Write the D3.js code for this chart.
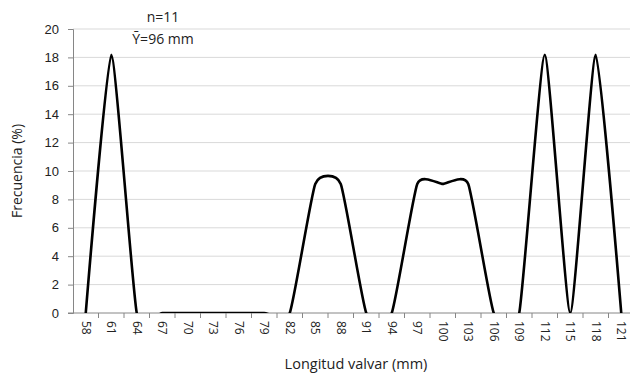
<!DOCTYPE html>
<html>
<head>
<meta charset="utf-8">
<script src="https://cdn.jsdelivr.net/npm/d3@7"></script>
<style>
  body { margin: 0; background: #fff; }
  svg { font-family: "Open Sans", Lato, sans-serif; }
  .tick text { fill: #222; }
</style>
</head>
<body>
<div id="chart"></div>
<script>
// Longitud valvar - frecuencia (%)
const lengths = ["58","61","64","67","70","73","76","79","82","85","88","91","94","97","100","103","106","109","112","115","118","121"];
const freq = [0, 18.18, 0, 0, 0, 0, 0, 0, 0, 9.09, 9.09, 0, 0, 9.09, 9.09, 9.09, 0, 0, 18.18, 0, 18.18, 0];
const yTicks = [0, 2, 4, 6, 8, 10, 12, 14, 16, 18, 20];

const W = 630, H = 374;
const plot = { left: 73, right: 634, top: 29, bottom: 313 };

const svg = d3.select("#chart").append("svg")
    .attr("width", W)
    .attr("height", H);

const x = d3.scaleBand()
    .domain(lengths)
    .range([plot.left, plot.right]);

const y = d3.scaleLinear()
    .domain([0, 20])
    .range([plot.bottom, plot.top]);

// gridlines
svg.append("g")
    .selectAll("line")
    .data(yTicks.filter(t => t > 0))
    .enter()
    .append("line")
    .attr("x1", plot.left)
    .attr("x2", plot.right)
    .attr("y1", d => y(d))
    .attr("y2", d => y(d))
    .attr("stroke", "#d9d9d9")
    .attr("stroke-width", 1);

// y axis
const yAxis = svg.append("g")
    .attr("transform", `translate(${plot.left},0)`)
    .call(d3.axisLeft(y).tickValues(yTicks).tickSize(5).tickPadding(9));
yAxis.select(".domain").attr("stroke", "#868686");
yAxis.selectAll(".tick line").attr("stroke", "#868686");
yAxis.selectAll(".tick text").attr("font-size", 13);

// x axis: ticks sit on the category boundaries
const xAxis = svg.append("g")
    .attr("transform", `translate(0,${plot.bottom})`);
xAxis.append("line")
    .attr("x1", plot.left - 5)
    .attr("x2", plot.right)
    .attr("stroke", "#868686");
xAxis.selectAll(".xt")
    .data(lengths)
    .enter()
    .append("line")
    .attr("x1", d => x(d) + x.bandwidth())
    .attr("x2", d => x(d) + x.bandwidth())
    .attr("y1", 0)
    .attr("y2", 5)
    .attr("stroke", "#868686");
xAxis.selectAll(".xl")
    .data(lengths)
    .enter()
    .append("text")
    .attr("transform", d => `translate(${x(d) + x.bandwidth() / 2 - 1},8) rotate(90)`)
    .attr("dominant-baseline", "middle")
    .attr("text-anchor", "start")
    .attr("font-size", 12)
    .attr("fill", "#222")
    .text(d => d);

// smoothed line, clipped to the plot area
svg.append("clipPath")
    .attr("id", "clip")
    .append("rect")
    .attr("x", plot.left)
    .attr("y", plot.top - 10)
    .attr("width", plot.right - plot.left)
    .attr("height", plot.bottom - plot.top + 10);

const line = d3.line()
    .x((d, i) => x(lengths[i]) + x.bandwidth() / 2)
    .y(d => y(d))
    .curve(d3.curveCardinal.tension(0.5));

svg.append("path")
    .datum(freq)
    .attr("clip-path", "url(#clip)")
    .attr("d", line)
    .attr("fill", "none")
    .attr("stroke", "#000")
    .attr("stroke-width", 2.6);

// annotations
svg.append("text")
    .attr("x", 163).attr("y", 18)
    .attr("text-anchor", "middle")
    .attr("dominant-baseline", "middle")
    .attr("font-size", 14)
    .attr("fill", "#222")
    .text("n=11");
svg.append("text")
    .attr("x", 163).attr("y", 40)
    .attr("text-anchor", "middle")
    .attr("dominant-baseline", "middle")
    .attr("font-size", 14)
    .attr("fill", "#222")
    .text("Ȳ=96 mm");

// axis titles
svg.append("text")
    .attr("transform", `translate(18,171) rotate(-90)`)
    .attr("text-anchor", "middle")
    .attr("dominant-baseline", "middle")
    .attr("font-size", 14)
    .attr("fill", "#222")
    .text("Frecuencia (%)");
svg.append("text")
    .attr("x", 356).attr("y", 365)
    .attr("text-anchor", "middle")
    .attr("dominant-baseline", "middle")
    .attr("font-size", 14.5)
    .attr("fill", "#222")
    .text("Longitud valvar (mm)");
</script>
</body>
</html>
